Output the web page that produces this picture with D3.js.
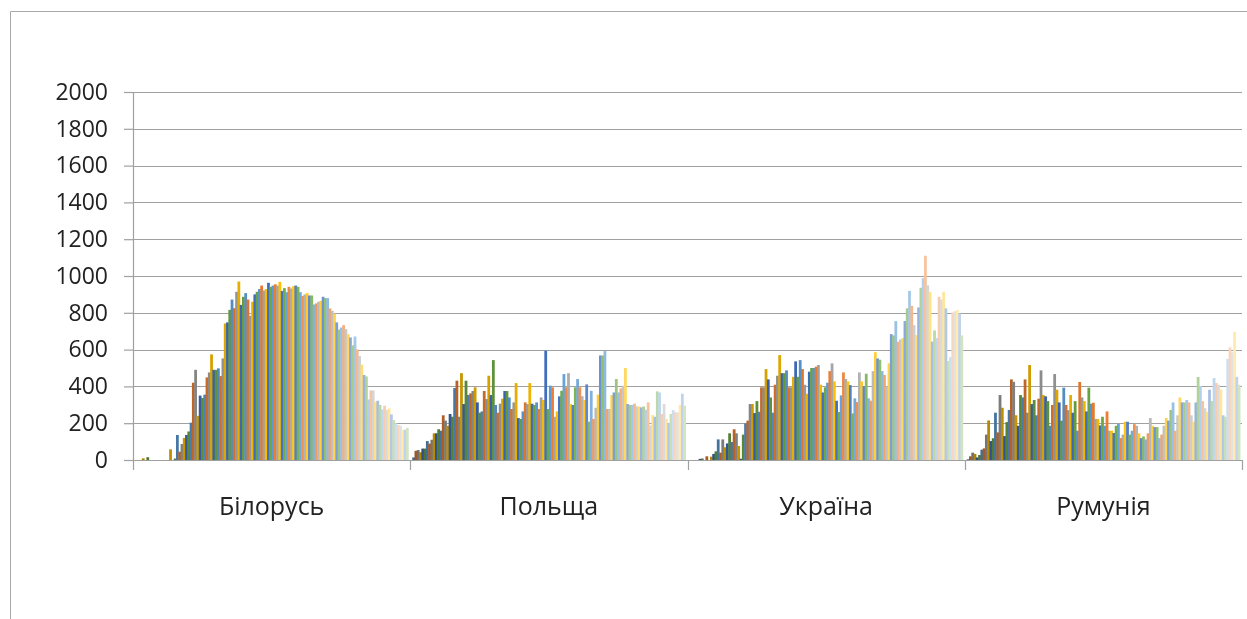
<!DOCTYPE html>
<html><head><meta charset="utf-8">
<script src="https://cdn.jsdelivr.net/npm/d3@7"></script>
<style>html,body{margin:0;padding:0;background:#fff;overflow:hidden}svg{filter:blur(0.4px)}</style>
</head><body><svg id="c" width="1247" height="619"></svg>
<script>
const categories = ["Білорусь","Польща","Україна","Румунія"];
const yTicks = [0,200,400,600,800,1000,1200,1400,1600,1800,2000];
const baseColors = ["#5B9BD5","#ED7D31","#A5A5A5","#FFC000","#4472C4","#70AD47"];
const belarus = [0,0,0,9,0,15,0,0,0,0,0,0,0,0,0,58,0,8,136,45,87,120,136,155,203,420,490,240,350,337,355,449,476,574,490,490,498,456,552,742,748,816,872,825,914,970,843,887,907,872,784,860,900,914,929,948,921,929,963,941,
948,955,948,968,919,934,912,941,932,945,948,941,912,892,900,907,894,894,845,851,860,865,887,880,880,824,811,796,748,709,720,733,711,684,666,623,671,601,565,518,462,454,329,378,378,317,322,299,275,295,272,280,248,217,199,190,186,163,165,175];
const poland = [14,50,54,42,62,62,103,89,110,145,145,167,159,243,214,186,250,235,391,431,235,472,304,431,353,362,375,395,313,257,264,375,331,458,353,543,299,257,306,333,375,375,340,277,313,418,228,223,264,313,304,418,306,299,313,277,340,326,594,277,
404,395,235,264,346,376,467,395,472,304,299,395,440,395,347,326,411,208,376,223,284,355,568,568,592,277,277,353,367,440,367,389,404,500,304,299,299,306,291,291,286,291,273,313,188,244,235,373,367,250,304,223,201,250,271,259,259,299,360,295];
const ukraine = [0,0,0,0,6,8,0,20,0,18,33,47,112,40,112,69,90,145,98,167,145,76,7,138,199,214,304,304,255,320,262,395,395,494,438,340,257,409,458,570,472,472,487,395,395,452,536,452,543,494,409,360,480,500,500,507,516,409,367,395,
420,483,525,427,322,261,351,476,440,427,407,253,335,315,476,427,402,469,335,322,483,586,552,545,483,462,398,525,684,677,755,643,655,662,755,824,919,838,733,679,829,936,988,1110,950,914,643,704,662,887,872,914,824,538,559,802,809,815,796,677];
const romania = [4,20,40,33,14,27,56,63,138,215,103,118,257,150,353,284,130,206,272,438,425,243,186,353,340,438,257,516,304,326,243,333,487,353,346,320,186,299,467,382,313,214,393,299,271,353,257,320,159,424,340,320,264,393,306,311,223,223,188,235,
186,264,159,159,147,186,197,119,138,208,208,138,159,195,186,145,119,128,112,145,228,186,179,179,119,138,186,228,214,272,313,159,243,340,313,313,326,313,243,208,313,451,402,320,281,262,382,320,445,418,409,382,243,235,550,612,585,697,452,409];
const seriesByCategory = [belarus,poland,ukraine,romania];

const svg = d3.select("#c");
const FONT = "'Open Sans', sans-serif", GREY = "#A0A0A0";

svg.append("path").attr("d","M10.5,619V11.5H1247").attr("fill","none").attr("stroke","#A8A8A8").attr("stroke-width",1);

const x0 = d3.scaleBand().domain(categories).range([133,1242]);
const x1 = d3.scaleBand().domain(d3.range(belarus.length)).range([2,x0.bandwidth()-2]);
const y = d3.scaleLinear().domain([0,2000]).range([460,92]);

function seriesColor(i){
  const c = Math.floor(i/baseColors.length), col = d3.rgb(baseColors[i%baseColors.length]);
  if(c<10){const k=0.68+0.32*c/10; return d3.rgb(col.r*k,col.g*k,col.b*k).formatHex();}
  return d3.interpolateRgb(col,"#ffffff")(0.68*(c-10)/9);
}

const yAxis = d3.axisLeft(y).tickValues(yTicks).tickFormat(d3.format("d")).tickSize(9).tickPadding(16);
const gy = svg.append("g").attr("transform","translate(133,0)").call(yAxis);
gy.select(".domain").attr("stroke",GREY).attr("stroke-width",1.2);
gy.selectAll("line").attr("stroke",GREY).attr("stroke-width",1.2);
gy.selectAll("text").attr("font-family",FONT).attr("font-size",23).attr("fill","#222");

svg.append("g").selectAll("line").data(yTicks.filter(d=>d>0)).join("line")
  .attr("x1",133).attr("x2",1242).attr("y1",d=>Math.round(y(d))+.5).attr("y2",d=>Math.round(y(d))+.5)
  .attr("stroke",GREY).attr("stroke-width",1.2);

svg.append("g").selectAll("g").data(categories).join("g")
  .attr("transform",d=>`translate(${x0(d)},0)`)
  .each(function(cat,ci){
    d3.select(this).selectAll("rect").data(seriesByCategory[ci]).join("rect")
      .attr("x",(d,i)=>x1(i)).attr("width",x1.bandwidth()+0.5)
      .attr("y",d=>y(d)).attr("height",d=>y(0)-y(d))
      .attr("fill",(d,i)=>seriesColor(i));
  });

const xAxis = d3.axisBottom(x0).tickSize(0).tickPadding(37);
const gx = svg.append("g").attr("transform","translate(0,460)").call(xAxis);
gx.select(".domain").attr("stroke",GREY).attr("stroke-width",1.2);
gx.selectAll("text").attr("font-family",FONT).attr("font-size",25).attr("fill","#222");
gx.selectAll(".sep").data([...categories.map(c=>x0(c)),x0.range()[1]]).join("line").attr("class","sep")
  .attr("x1",d=>Math.round(d)+.5).attr("x2",d=>Math.round(d)+.5).attr("y1",0).attr("y2",10).attr("stroke",GREY).attr("stroke-width",1.2);
</script></body></html>
